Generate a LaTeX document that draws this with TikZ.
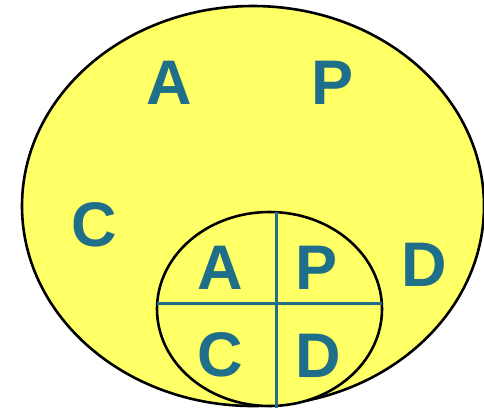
\documentclass[tikz,border=0pt]{standalone}
\usepackage{fontspec}
\setmainfont{Liberation Sans}
\definecolor{fillyel}{HTML}{FFFF66}
\definecolor{teal}{HTML}{1F6E8A}
\begin{document}
\begin{tikzpicture}[x=1pt,y=-1pt,
  lett/.style={anchor=base,inner sep=0pt,text=teal,font=\fontsize{63}{63}\selectfont\bfseries},
  outline/.style={draw=black,line width=2.6pt,fill=fillyel},
  divider/.style={draw=teal,line width=3pt}]
\useasboundingbox (0,0) rectangle (484,408);
\fill[white] (0,0) rectangle (484,408);
\path[outline] (253,206) ellipse [x radius=231, y radius=200];
\path[outline] (269.5,309) ellipse [x radius=112.5, y radius=97];
\coordinate (vt) at (276.2,212);
\coordinate (vb) at (276.2,408);
\coordinate (hl) at (157,303.5);
\coordinate (hr) at (382,303.5);
\draw[divider] (vt) -- (vb);
\draw[divider] (hl) -- (hr);
\node[lett] (A1) at (169.5,104) {A};
\node[lett] (P1) at (333,104) {P};
\node[lett] (C1) at (94,246) {C};
\node[lett] (D1) at (424,286) {D};
\node[lett] (A2) at (220.5,289) {A};
\node[lett] (P2) at (317,289) {P};
\node[lett] (C2) at (220,376) {C};
\node[lett] (D2) at (318,377) {D};
\end{tikzpicture}
\end{document}
